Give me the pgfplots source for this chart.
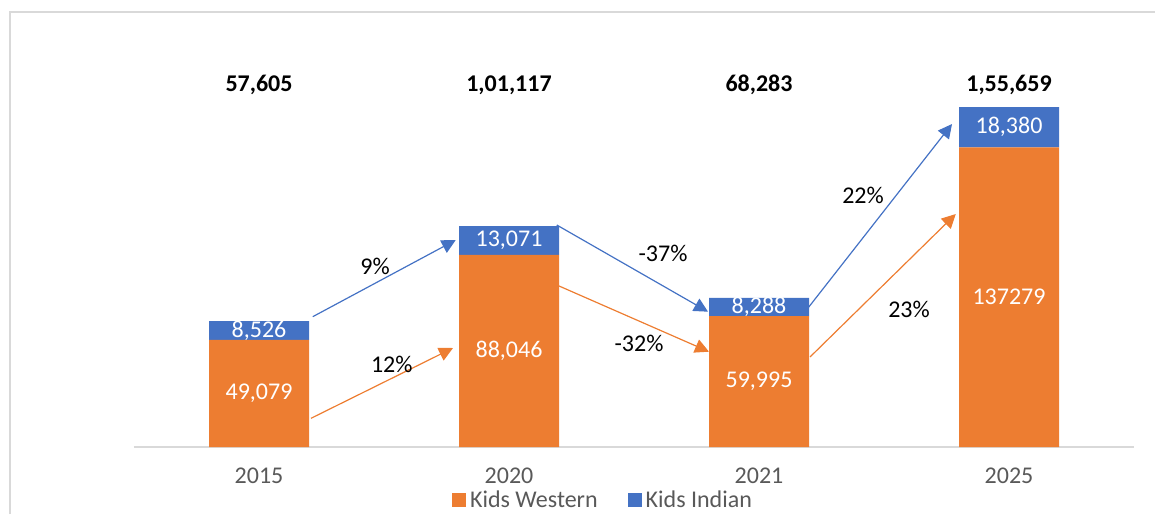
\documentclass[border=0pt]{standalone}
\usepackage{fontspec}
\setmainfont{Carlito}
\usepackage{pgfplots}
\pgfplotsset{compat=1.18}
\usetikzlibrary{arrows.meta}

\definecolor{kwest}{HTML}{ED7D31}
\definecolor{kind}{HTML}{4472C4}
\definecolor{axgray}{HTML}{D9D9D9}
\definecolor{txtgray}{HTML}{595959}

\pgfplotsset{
  base/.style={
    width=500pt, height=196.5pt, scale only axis,
    at={(0,0)}, anchor=south west,
    xmin=-0.5, xmax=3.5, ymin=0, ymax=180000,
    clip=false,
  },
  lbl/.style={draw=none, mark=none, nodes near coords,
    point meta=explicit symbolic, nodes near coords align=center,
    every node near coord/.append style={text=#1, inner sep=0pt}},
}
\tikzset{chg/.style={-{Triangle[length=7pt,width=7pt]}, line width=0.6pt}}

\begin{document}
\begin{tikzpicture}[font=\fontsize{12}{14}\selectfont]
\useasboundingbox (-67pt,-33.5pt) rectangle (510.5pt,223.5pt);
\draw[axgray, line width=0.6pt] (-62pt,-33.5pt) -- (-62pt,217.5pt) -- (510.5pt,217.5pt);

% stacked bars
\begin{axis}[base,
  ybar stacked, bar width=50pt,
  axis x line*=bottom, axis y line=none,
  x axis line style={draw=axgray, line width=0.8pt, -},
  xtick={0,1,2,3}, xticklabels={2015,2020,2021,2025},
  major tick length=0pt, xtick style={draw=none},
  xticklabel style={text=txtgray, yshift=-7pt},
  ytick=\empty,
]
\addplot[fill=kwest, draw=none] coordinates {(0,49079) (1,88046) (2,59995) (3,137279)};
\addplot[fill=kind, draw=none] coordinates {(0,8526) (1,13071) (2,8288) (3,18380)};
\end{axis}

% labels, arrows, legend
\begin{axis}[base, hide axis,
  legend columns=2,
  legend style={at={(0.47,-0.136)}, anchor=center, draw=none, fill=none,
    text=txtgray, /tikz/every even column/.append style={column sep=13pt}},
  legend image code/.code={\fill[#1] (0pt,-3.5pt) rectangle (7pt,3.5pt);},
]
\addlegendimage{fill=kwest, draw=none}
\addlegendentry{Kids Western}
\addlegendimage{fill=kind, draw=none}
\addlegendentry{Kids Indian}

% segment values
\addplot[lbl=white] coordinates {(0,24540) [49,079] (1,44023) [88,046] (2,29998) [59,995] (3,68640) [137279]};
\addplot[lbl=white] coordinates {(0,53342) [8,526] (1,94582) [13,071] (2,64139) [8,288] (3,146469) [18,380]};
% totals
\addplot[lbl=black, every node near coord/.append style={font=\fontsize{12}{14}\selectfont\bfseries}]
  coordinates {(0,165800) [57,605] (1,165800) [1,01,117] (2,165800) [68,283] (3,165800) [1,55,659]};
% growth rates
\addplot[lbl=black] coordinates {(0.464,82580) [9\%] (0.531,38010) [12\%]
  (1.616,88850) [-37\%] (1.52,47630) [-32\%] (2.416,115420) [22\%] (2.6,63200) [23\%]};

\draw[kind, chg] (0.215,59680) -- (0.787,94800);
\draw[kwest, chg] (0.208,13145) -- (0.776,45340);
\draw[kind, chg] (1.191,101680) -- (1.796,61970);
\draw[kwest, chg] (1.191,74200) -- (1.8,43650);
\draw[kind, chg] (2.196,63660) -- (2.772,147930);
\draw[kwest, chg] (2.204,41220) -- (2.787,106710);
\end{axis}
\end{tikzpicture}
\end{document}
